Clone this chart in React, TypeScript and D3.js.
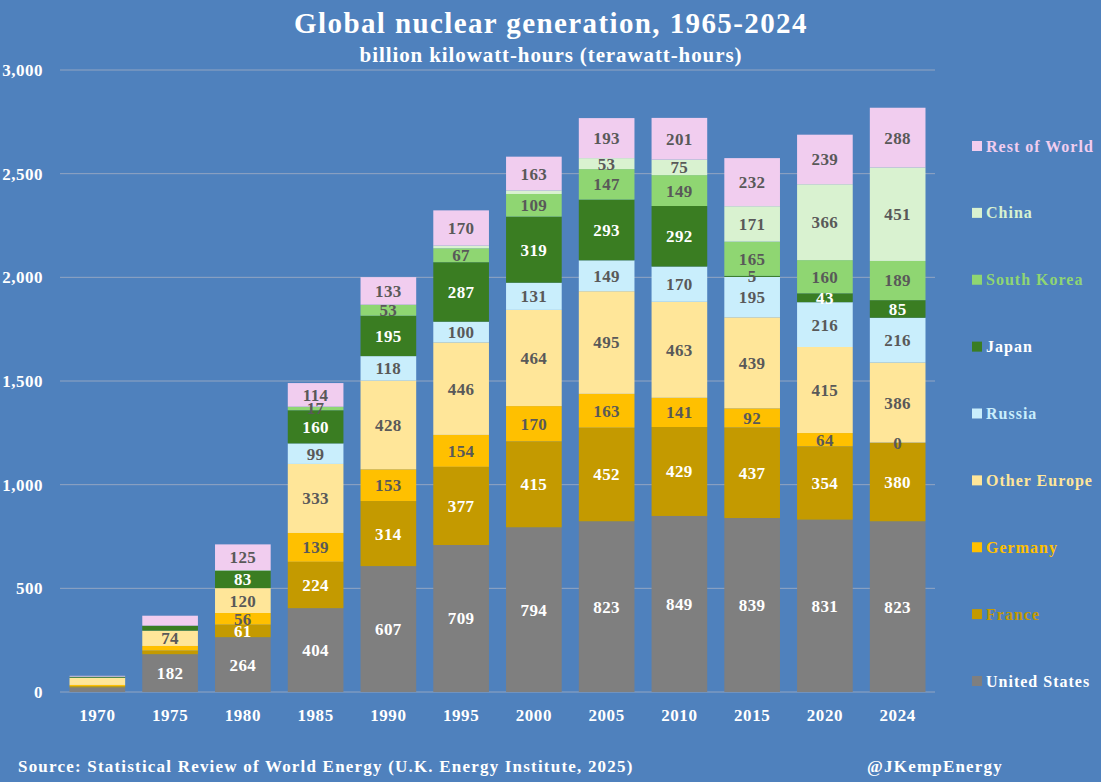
import * as React from 'react';
import * as d3 from 'd3';

// years on the x axis
const years = ['1970', '1975', '1980', '1985', '1990', '1995', '2000', '2005', '2010', '2015', '2020', '2024'];

// TWh by region, bottom to top of each stack
const unitedStates = [22, 182, 264, 404, 607, 709, 794, 823, 849, 839, 831, 823];
const france = [6, 18, 61, 224, 314, 377, 415, 452, 429, 437, 354, 380];
const germany = [6, 22, 56, 139, 153, 154, 170, 163, 141, 92, 64, 0];
const otherEurope = [35, 74, 120, 333, 428, 446, 464, 495, 463, 439, 415, 386];
const russia = [0, 0, 0, 99, 118, 100, 131, 149, 170, 195, 216, 216];
const japan = [5, 24, 83, 160, 195, 287, 319, 293, 292, 5, 43, 85];
const southKorea = [0, 0, 3, 17, 53, 67, 109, 147, 149, 165, 160, 189];
const china = [0, 0, 0, 0, 0, 13, 17, 53, 75, 171, 366, 451];
const restOfWorld = [4, 48, 125, 114, 133, 170, 163, 193, 201, 232, 239, 288];

const yTicks = [0, 500, 1000, 1500, 2000, 2500, 3000];

// labels Excel left off (tiny slices)
const hiddenLabels = [
  '1970', '1975:France', '1975:Germany', '1975:Japan', '1975:Rest of World',
  '1980:South Korea', '1995:China', '2000:China',
];

interface Series {
  name: string;
  values: number[];
  fill: string;
  label: string;
  legend: string;
}

const series: Series[] = [
  { name: 'United States', values: unitedStates, fill: '#7f7f7f', label: '#ffffff', legend: '#ffffff' },
  { name: 'France', values: france, fill: '#c49a00', label: '#ffffff', legend: '#c49a00' },
  { name: 'Germany', values: germany, fill: '#ffc000', label: '#595959', legend: '#ffc000' },
  { name: 'Other Europe', values: otherEurope, fill: '#ffe699', label: '#595959', legend: '#ffe699' },
  { name: 'Russia', values: russia, fill: '#c9eefc', label: '#595959', legend: '#c9eefc' },
  { name: 'Japan', values: japan, fill: '#3a7d22', label: '#ffffff', legend: '#ffffff' },
  { name: 'South Korea', values: southKorea, fill: '#8fd672', label: '#595959', legend: '#8fd672' },
  { name: 'China', values: china, fill: '#d9f2d0', label: '#595959', legend: '#d9f2d0' },
  { name: 'Rest of World', values: restOfWorld, fill: '#f1cdef', label: '#595959', legend: '#f1cdef' },
];

const width = 1101;
const height = 782;
const font = '"Liberation Serif", "DejaVu Serif", serif';

const App: React.FC = () => {
  const x = d3.scaleBand().domain(years).range([61, 934]).paddingInner(0.235).paddingOuter(0.117);
  const y = d3.scaleLinear().domain([0, 3000]).range([692, 70]);

  const rows = years.map((yr, i) => {
    const r: Record<string, number | string> = { year: yr };
    series.forEach((s) => (r[s.name] = s.values[i]));
    return r;
  });
  const stacked = d3.stack<Record<string, number | string>>().keys(series.map((s) => s.name))(rows);

  const legendY = d3.scalePoint<string>()
    .domain(series.map((s) => s.name).reverse())
    .range([146, 681]);

  const fmt = d3.format(',');

  return (
    <svg width={width} height={height} style={{ position: 'absolute', left: 0, top: 0 }} fontFamily={font} fontWeight="bold">
      <rect width={width} height={height} fill="#4f81bd" />

      <text x={551} y={33} textAnchor="middle" fill="#ffffff" fontSize={29} letterSpacing={1.4}>
        Global nuclear generation, 1965-2024
      </text>
      <text x={551} y={62} textAnchor="middle" fill="#ffffff" fontSize={21} letterSpacing={0.9}>
        billion kilowatt-hours (terawatt-hours)
      </text>

      {yTicks.map((t) => (
        <g key={t}>
          <line x1={60} x2={935} y1={y(t)} y2={y(t)} stroke="#93a5c2" strokeWidth={1} />
          <text x={43} y={y(t)} dy="0.35em" textAnchor="end" fill="#ffffff" fontSize={17} letterSpacing={0.5}>
            {fmt(t)}
          </text>
        </g>
      ))}

      {stacked.map((layer, si) => (
        <g key={layer.key} fill={series[si].fill}>
          {layer.map((d, i) => (
            <rect
              key={i}
              x={x(years[i])}
              y={y(d[1])}
              width={x.bandwidth()}
              height={Math.max(0, y(d[0]) - y(d[1]))}
            />
          ))}
        </g>
      ))}

      {stacked.map((layer, si) =>
        layer.map((d, i) => {
          const yr = years[i];
          const s = series[si];
          if (hiddenLabels.includes(yr) || hiddenLabels.includes(`${yr}:${s.name}`)) return null;
          const v = s.values[i];
          if (v === 0 && s.name !== 'Germany') return null;
          const tiny = y(d[0]) - y(d[1]) < 8;
          return (
            <text
              key={`${si}-${i}`}
              x={x(yr)! + x.bandwidth() / 2}
              y={(y(d[0]) + y(d[1])) / 2}
              dy="0.35em"
              textAnchor="middle"
              fontSize={17}
              letterSpacing={0.4}
              fill={tiny && s.label === '#ffffff' && v < 10 ? '#595959' : s.label}
            >
              {v}
            </text>
          );
        })
      )}

      {years.map((yr) => (
        <text key={yr} x={x(yr)! + x.bandwidth() / 2} y={721} textAnchor="middle" fill="#ffffff" fontSize={17} letterSpacing={0.6}>
          {yr}
        </text>
      ))}

      {series.map((s) => (
        <g key={s.name} transform={`translate(972,${legendY(s.name)})`}>
          <rect x={0} y={-5} width={10} height={10} fill={s.fill} />
          <text x={14} y={0} dy="0.35em" fill={s.legend} fontSize={16} letterSpacing={1}>
            {s.name}
          </text>
        </g>
      ))}

      <text x={18} y={772} fill="#ffffff" fontSize={17} letterSpacing={1.2}>
        Source: Statistical Review of World Energy (U.K. Energy Institute, 2025)
      </text>
      <text x={1003} y={772} textAnchor="end" fill="#ffffff" fontSize={17} letterSpacing={1.2}>
        @JKempEnergy
      </text>
    </svg>
  );
};

export default App;
